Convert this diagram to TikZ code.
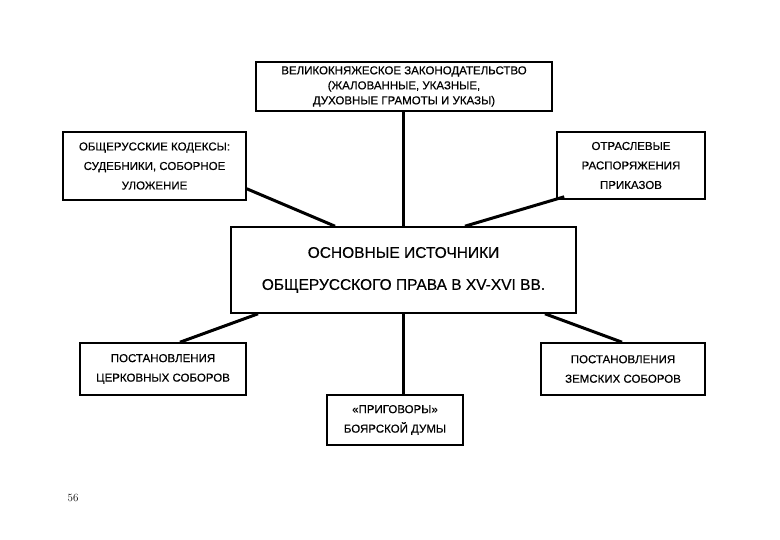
\documentclass[tikz,border=0pt]{standalone}
\usepackage{fontspec}
\setmainfont{Liberation Sans}[FakeBold=0.4]
\begin{document}
\begin{tikzpicture}[x=1pt,y=-1pt,
  bx/.style={draw,line width=1.6pt,inner sep=0pt},
  lk/.style={line width=3pt},
  sm/.style={font=\fontsize{11.5}{19.5}\selectfont,align=center}]
\useasboundingbox (0,0) rectangle (780,540);
\node[bx,minimum width=296,minimum height=49] (top) at (404,86.5) {};
\node[font=\fontsize{11.5}{15}\selectfont,align=center] at (top) {ВЕЛИКОКНЯЖЕСКОЕ ЗАКОНОДАТЕЛЬСТВО\\ (ЖАЛОВАННЫЕ, УКАЗНЫЕ,\\ ДУХОВНЫЕ ГРАМОТЫ И УКАЗЫ)};
\node[bx,minimum width=183,minimum height=68] (l) at (154.5,166) {};
\node[sm] at (l) {ОБЩЕРУССКИЕ КОДЕКСЫ:\\ СУДЕБНИКИ, СОБОРНОЕ\\ УЛОЖЕНИЕ};
\node[bx,minimum width=148,minimum height=67] (r) at (631,165.5) {};
\node[sm] at (r) {ОТРАСЛЕВЫЕ\\ РАСПОРЯЖЕНИЯ\\ ПРИКАЗОВ};
\node[bx,minimum width=345,minimum height=86] (c) at (403.5,270) {};
\node[font=\fontsize{15.5}{32}\selectfont,align=center] at (c) {ОСНОВНЫЕ ИСТОЧНИКИ\\ ОБЩЕРУССКОГО ПРАВА В XV-XVI ВВ.};
\node[bx,minimum width=166,minimum height=52] (bl) at (163,369) {};
\node[sm] at (bl) {ПОСТАНОВЛЕНИЯ\\ ЦЕРКОВНЫХ СОБОРОВ};
\node[bx,minimum width=164,minimum height=52] (br) at (623,369) {};
\node[sm] at (br) {ПОСТАНОВЛЕНИЯ\\ ЗЕМСКИХ СОБОРОВ};
\node[bx,minimum width=136,minimum height=50] (bc) at (395,420) {};
\node[sm] at (bc) {«ПРИГОВОРЫ»\\ БОЯРСКОЙ ДУМЫ};
\node[font=\fontfamily{lmr}\fontsize{11}{12}\selectfont] (pg) at (73,498) {56};
\draw[lk] (top.south -| 403,0) -- (c.north -| 403,0);
\draw[lk] (l.south east) ++(0,-12) coordinate (a1) (a1) -- (c.north -| 335,0);
\draw[lk] (r.south west) ++(8,-3) coordinate (a2) (a2) -- (c.north -| 465,0);
\draw[lk] (c.south -| 258,0) -- (bl.north -| 180,0);
\draw[lk] (c.south -| 545,0) -- (br.north -| 622,0);
\draw[lk] (c.south -| 403,0) -- (bc.north -| 403,0);
\end{tikzpicture}
\end{document}
